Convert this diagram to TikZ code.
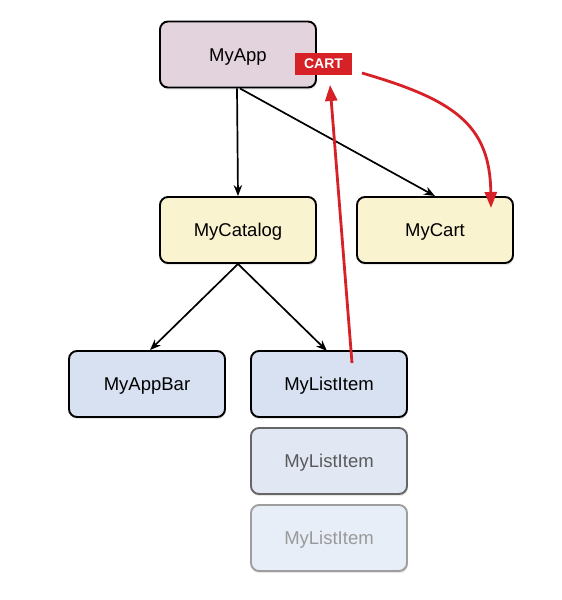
\documentclass[tikz,border=0pt]{standalone}
\usepackage{fontspec}
\setmainfont{Liberation Sans}
\usetikzlibrary{arrows.meta,shadows}
\definecolor{appfill}{HTML}{E3D3DD}
\definecolor{yellowfill}{HTML}{FAF3D0}
\definecolor{bluefill}{HTML}{D7E1F1}
\definecolor{bluefilltwo}{HTML}{E1E8F4}
\definecolor{bluefillthree}{HTML}{E8EEF8}
\definecolor{cartred}{HTML}{D62127}
\tikzset{
  box/.style={draw=black, line width=1.9pt, rounded corners=8pt, minimum width=156pt,
    minimum height=66pt, inner sep=0pt, font=\fontsize{18.5}{21}\selectfont,
    text depth=0pt, text height=13.5pt,
    drop shadow={opacity=0.18, shadow xshift=0.8pt, shadow yshift=-2.2pt}},
  conn/.style={line width=1.7pt, -{Stealth[length=11pt,width=8.5pt]}},
  redconn/.style={draw=cartred, line width=2.8pt, -{Triangle[length=16pt,width=12pt]}},
  cartlabel/.style={fill=cartred, text=white, font=\bfseries\fontsize{14}{16}\selectfont,
    minimum width=57pt, minimum height=22pt, inner sep=0pt}
}
\begin{document}
\begin{tikzpicture}[x=1pt,y=-1pt]
\useasboundingbox (0,0) rectangle (562,600);
\node[box, fill=appfill] (app) at (238,54.5) {MyApp};
\node[box, fill=yellowfill] (catalog) at (238,230) {MyCatalog};
\node[box, fill=yellowfill] (cart) at (435,230) {MyCart};
\node[box, fill=bluefill] (appbar) at (147,384) {MyAppBar};
\node[box, fill=bluefill] (item) at (329,384) {MyListItem};
\node[box, fill=bluefilltwo, draw=black!60, text=black!65] (itemtwo) at (329,461) {MyListItem};
\node[box, fill=bluefillthree, draw=black!38, text=black!40] (itemthree) at (329,538) {MyListItem};
\node[cartlabel] (cartlbl) at (323.5,64) {CART};
\draw[conn] (app.south) ++(-1,0) coordinate (appa) (appa) -- (catalog.north);
\draw[conn] (app.south) ++(2,0) coordinate (appb) (appb) -- (cart.north);
\draw[conn] (catalog.south) -- ([xshift=-88pt]catalog.south |- appbar.north) coordinate (abtop);
\draw[conn] (catalog.south) -- (327,351) coordinate (ittop);
\coordinate (upstart) at (352,363);
\coordinate (upend) at (330,85);
\draw[redconn] (upstart) -- (upend);
\coordinate (rstart) at (362,73);
\coordinate (rend) at (491,208);
\draw[redconn] (rstart) .. controls (455,100) and (490,125) .. (rend);
\end{tikzpicture}
\end{document}
